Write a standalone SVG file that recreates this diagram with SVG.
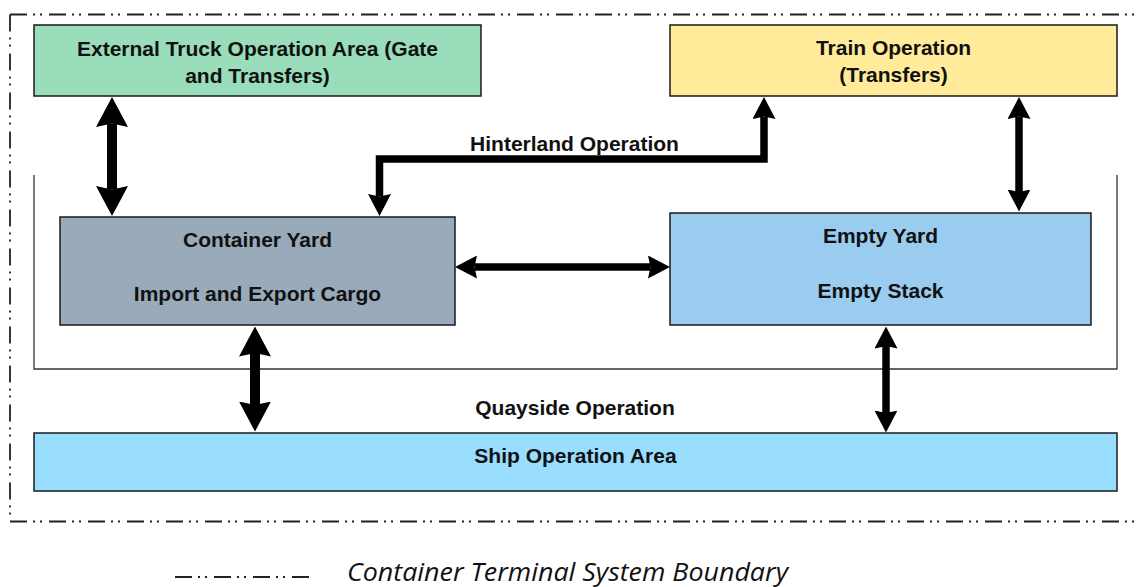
<svg xmlns="http://www.w3.org/2000/svg" width="1137" height="587" viewBox="0 0 1137 587">
  <style>
    .box { stroke: #1a1a1a; stroke-width: 1.5; }
    .lbl { font-family: "Liberation Sans", Arial, sans-serif; font-weight: bold; font-size: 21px; fill: #111; text-anchor: middle; }
    .boundary { fill: none; stroke: #222; stroke-width: 1.8; stroke-dasharray: 17 6 2 5 2 7; }
    .inner { fill: none; stroke: #333; stroke-width: 1.3; }
    .big { fill: none; stroke: #000; stroke-width: 10; marker-start: url(#headBig); marker-end: url(#headBig); }
    .small { fill: none; stroke: #000; stroke-width: 7.5; stroke-linejoin: miter; marker-start: url(#headSmall); marker-end: url(#headSmall); }
    .legend { font-family: "Open Sans", "Liberation Sans", sans-serif; font-style: italic; font-size: 25px; fill: #111; }
  </style>
  <defs>
    <marker id="headBig" markerUnits="userSpaceOnUse" viewBox="0 0 30 32" markerWidth="30" markerHeight="32" refX="3.5" refY="16" orient="auto-start-reverse">
      <path d="M0,0 L30,16 L0,32 L3.5,16 Z" fill="#000"/>
    </marker>
    <marker id="headSmall" markerUnits="userSpaceOnUse" viewBox="0 0 22 23" markerWidth="22" markerHeight="23" refX="2.5" refY="11.5" orient="auto-start-reverse">
      <path d="M0,0 L22,11.5 L0,23 L2.5,11.5 Z" fill="#000"/>
    </marker>
  </defs>

  <rect width="1137" height="587" fill="#fff"/>

  <!-- system boundary (dash-dot-dot) -->
  <g id="boundary">
    <path class="boundary" d="M10,14.5 H1140"/>
    <path class="boundary" d="M10,14.5 V521.5 H1140"/>
  </g>

  <!-- inner operations frame, open at the top -->
  <path id="frame" class="inner" d="M34,175 V369 H1117 V175"/>

  <g id="truck">
    <rect class="box" x="34" y="25" width="447" height="71" fill="#99DDBB"/>
    <text class="lbl" x="257.5" y="56">External Truck Operation Area (Gate</text>
    <text class="lbl" x="257.5" y="83">and Transfers)</text>
  </g>

  <g id="train">
    <rect class="box" x="670" y="25" width="447" height="71" fill="#FFEB99"/>
    <text class="lbl" x="893.5" y="55">Train Operation</text>
    <text class="lbl" x="893.5" y="82">(Transfers)</text>
  </g>

  <g id="container-yard">
    <rect class="box" x="60" y="217" width="395" height="108" fill="#99AABB"/>
    <text class="lbl" x="257.5" y="247">Container Yard</text>
    <text class="lbl" x="257.5" y="301">Import and Export Cargo</text>
  </g>

  <g id="empty-yard">
    <rect class="box" x="670" y="213" width="421" height="112" fill="#99CCEE"/>
    <text class="lbl" x="880.5" y="243">Empty Yard</text>
    <text class="lbl" x="880.5" y="298">Empty Stack</text>
  </g>

  <g id="ship">
    <rect class="box" x="34" y="433" width="1083" height="58" fill="#99DDFF"/>
    <text class="lbl" x="575.5" y="463">Ship Operation Area</text>
  </g>

  <g id="connectors">
    <!-- truck gate <-> container yard -->
    <line class="big" x1="112" y1="123.5" x2="112" y2="189.5"/>
    <!-- container yard <-> ship -->
    <line class="big" x1="255" y1="353" x2="255" y2="405"/>
    <!-- empty yard <-> ship -->
    <line class="small" x1="886" y1="346" x2="886" y2="413"/>
    <!-- train <-> empty yard -->
    <line class="small" x1="1019" y1="116.5" x2="1019" y2="192"/>
    <!-- container yard <-> empty yard -->
    <line class="small" x1="474.5" y1="267" x2="650.5" y2="267"/>
    <!-- hinterland link: container yard <-> train -->
    <path class="small" d="M379.5,196.5 V159 H764 V116.5"/>
    <text class="lbl" x="574.5" y="151">Hinterland Operation</text>
    <text class="lbl" x="575" y="415">Quayside Operation</text>
  </g>

  <g id="legend">
    <line class="boundary" x1="175" y1="577" x2="309" y2="577"/>
    <text class="legend" x="347" y="580.5" textLength="441" lengthAdjust="spacingAndGlyphs">Container Terminal System Boundary</text>
  </g>
</svg>
